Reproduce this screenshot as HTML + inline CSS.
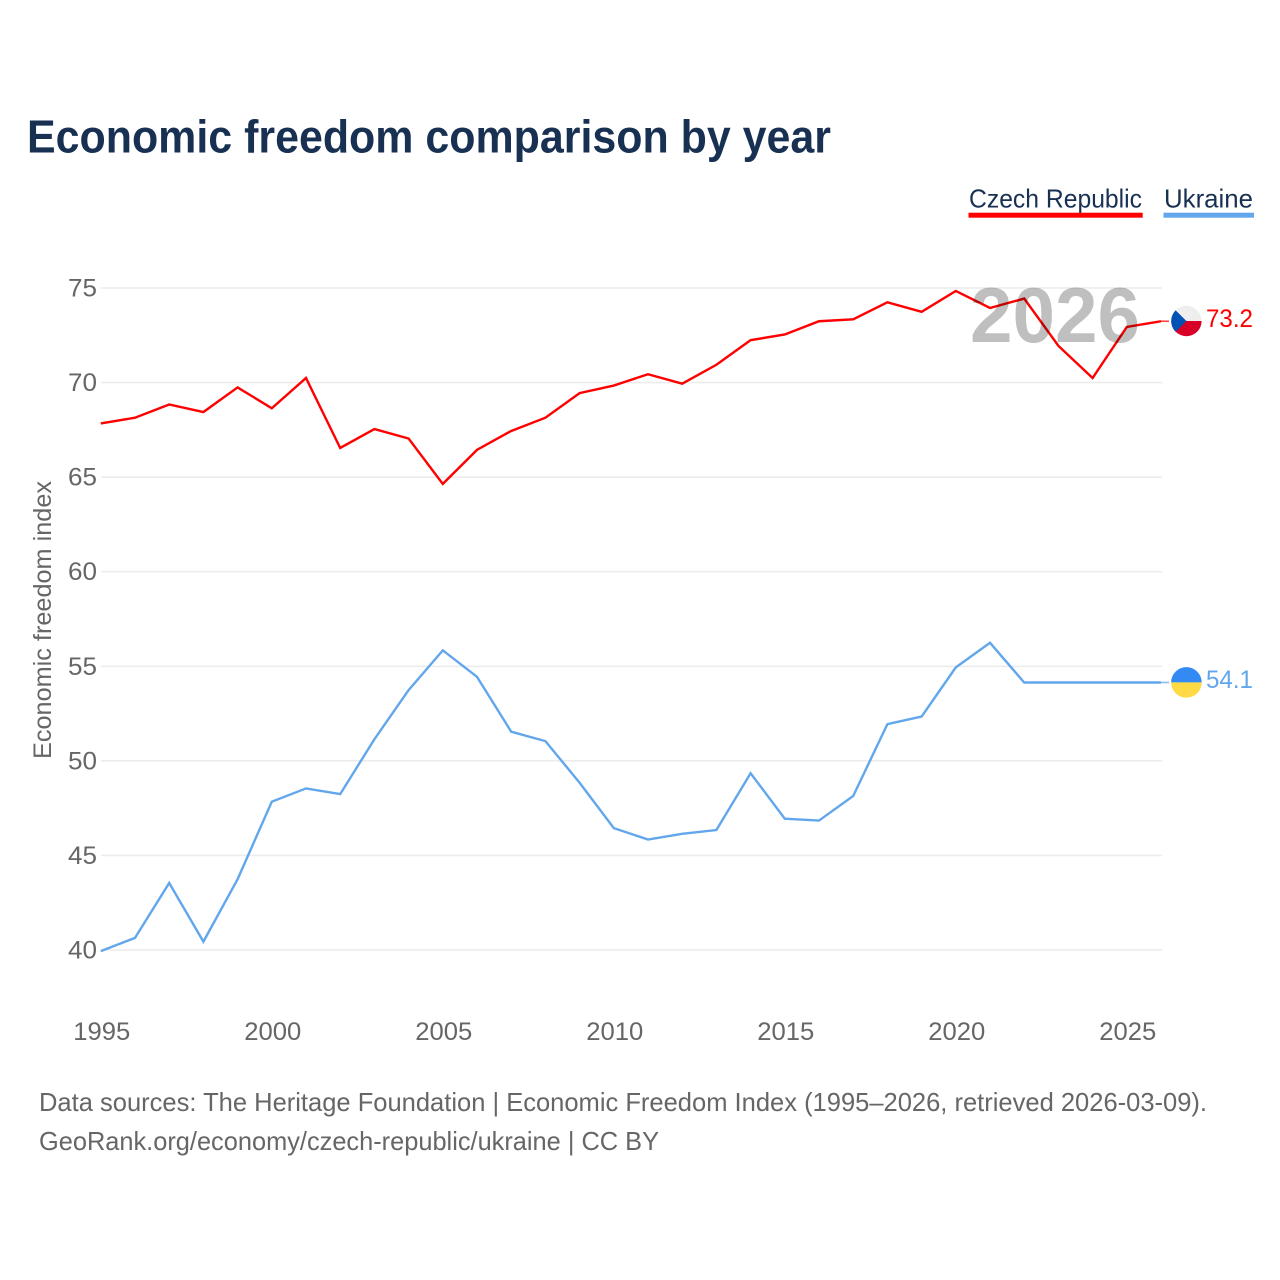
<!DOCTYPE html>
<html>
<head>
<meta charset="utf-8">
<title>Economic freedom comparison by year</title>
<style>
html,body{margin:0;padding:0;background:#fff;}
svg{display:block;font-family:"Liberation Sans",sans-serif;}
</style>
</head>
<body>
<svg id="chart" width="1280" height="1280" viewBox="0 0 1280 1280" xmlns="http://www.w3.org/2000/svg">
  <rect width="1280" height="1280" fill="#ffffff"/>
  <text x="27" y="152.5" font-size="46" font-weight="bold" fill="#183153" textLength="804" lengthAdjust="spacingAndGlyphs">Economic freedom comparison by year</text>

  <g>
    <text x="969" y="207.5" font-size="26" fill="#183153" textLength="173" lengthAdjust="spacingAndGlyphs">Czech Republic</text>
    <rect x="968.5" y="212.7" width="174.2" height="5" fill="#ff0000"/>
  </g>
  <g>
    <text x="1164" y="207.5" font-size="26" fill="#183153" textLength="89" lengthAdjust="spacingAndGlyphs">Ukraine</text>
    <rect x="1163.5" y="212.7" width="90.5" height="5" fill="#62a6ec"/>
  </g>

  <g id="grid"></g>
  <g id="yticks"></g>
  <g id="xticks"></g>
  <text transform="translate(51,759) rotate(-90)" font-size="25" fill="#666666" textLength="278" lengthAdjust="spacingAndGlyphs">Economic freedom index</text>

  <g id="series"></g>

  <text x="970" y="342" font-size="78" fill="#000000" fill-opacity="0.25" stroke="#000000" stroke-opacity="0" textLength="170" lengthAdjust="spacingAndGlyphs" style="paint-order:stroke;font-weight:bold">2026</text>

  <g>
    <clipPath id="cz-clip"><circle cx="1186.4" cy="321" r="15.2"/></clipPath>
    <g clip-path="url(#cz-clip)">
      <rect x="1171" y="305" width="31" height="16" fill="#eeeeee"/>
      <rect x="1171" y="321" width="31" height="16" fill="#d80027"/>
      <polygon points="1171,305.8 1186.4,321 1171,336.2" fill="#0052b4"/>
    </g>
  </g>
  <g>
    <clipPath id="ua-clip"><circle cx="1186.4" cy="682.4" r="15.3"/></clipPath>
    <g clip-path="url(#ua-clip)">
      <rect x="1171" y="666" width="31" height="16.4" fill="#338af3"/>
      <rect x="1171" y="682.4" width="31" height="16.4" fill="#ffda44"/>
    </g>
  </g>
  <text x="1206" y="327" font-size="25" fill="#ff0000" textLength="47" lengthAdjust="spacingAndGlyphs">73.2</text>
  <text x="1206" y="688" font-size="25" fill="#62a6ec" textLength="47" lengthAdjust="spacingAndGlyphs">54.1</text>

  <text x="39" y="1111" font-size="26" fill="#666666" textLength="1168" lengthAdjust="spacingAndGlyphs">Data sources: The Heritage Foundation | Economic Freedom Index (1995–2026, retrieved 2026-03-09).</text>
  <text x="39" y="1150" font-size="26" fill="#666666" textLength="620" lengthAdjust="spacingAndGlyphs">GeoRank.org/economy/czech-republic/ukraine | CC BY</text>
</svg>
<script>
const years = [1995,1996,1997,1998,1999,2000,2001,2002,2003,2004,2005,2006,2007,2008,2009,2010,2011,2012,2013,2014,2015,2016,2017,2018,2019,2020,2021,2022,2023,2024,2025,2026];
const czechValues = [67.8,68.1,68.8,68.4,69.7,68.6,70.2,66.5,67.5,67.0,64.6,66.4,67.4,68.1,69.4,69.8,70.4,69.9,70.9,72.2,72.5,73.2,73.3,74.2,73.7,74.8,73.9,74.4,71.9,70.2,72.9,73.2];
const ukraineValues = [39.9,40.6,43.5,40.4,43.7,47.8,48.5,48.2,51.1,53.7,55.8,54.4,51.5,51.0,48.8,46.4,45.8,46.1,46.3,49.3,46.9,46.8,48.1,51.9,52.3,54.9,56.2,54.1,54.1,54.1,54.1,54.1];
const yTickValues = [40,45,50,55,60,65,70,75];
const xTickValues = [1995,2000,2005,2010,2015,2020,2025];

const NS = 'http://www.w3.org/2000/svg';
function xScale(year){ return 100.8 + (year - 1995) * 34.2; }
function yScale(v){ return 950 - (v - 40) * (950 - 288) / 35; }
function make(tag, attrs, parent){
  const el = document.createElementNS(NS, tag);
  for (const k in attrs) el.setAttribute(k, attrs[k]);
  parent.appendChild(el);
  return el;
}
const gridG = document.getElementById('grid');
const yG = document.getElementById('yticks');
const xG = document.getElementById('xticks');
const seriesG = document.getElementById('series');

yTickValues.forEach(function(v){
  const line = make('line', {x1:101, x2:1162, y1:yScale(v), y2:yScale(v), stroke:'#ececec', 'stroke-width':1.6}, gridG);
  
  
  const t = make('text', {x:97, y:yScale(v)+8.5, 'text-anchor':'end', 'font-size':25, fill:'#666666', textLength:29, lengthAdjust:'spacingAndGlyphs'}, yG);
  
  
  t.textContent = v;
});
xTickValues.forEach(function(y){
  const t = make('text', {x:xScale(y)+1-28.5, y:1040, 'font-size':25, fill:'#666666', textLength:57, lengthAdjust:'spacingAndGlyphs'}, xG);
  
  
  t.textContent = y;
});
function lineY(v){ return yScale(v) - 0.8; }
function drawSeries(values, color, name){
  const pts = values.map(function(v, i){ return xScale(years[i]).toFixed(2) + ',' + lineY(v).toFixed(2); });
  const last = values[values.length - 1];
  const p = make('polyline', {points:pts.join(' '), fill:'none', stroke:color, 'stroke-width':2.4, 'stroke-linejoin':'miter'}, seriesG);
  
  
  const ext = make('line', {x1:xScale(2026), x2:xScale(2026)+8, y1:lineY(last), y2:lineY(last), stroke:color, 'stroke-width':1.6, 'stroke-opacity':0.75}, seriesG);
  
  
}
drawSeries(czechValues, '#ff0000', 'line-czech-republic');
drawSeries(ukraineValues, '#62a6ec', 'line-ukraine');
</script>
</body>
</html>
